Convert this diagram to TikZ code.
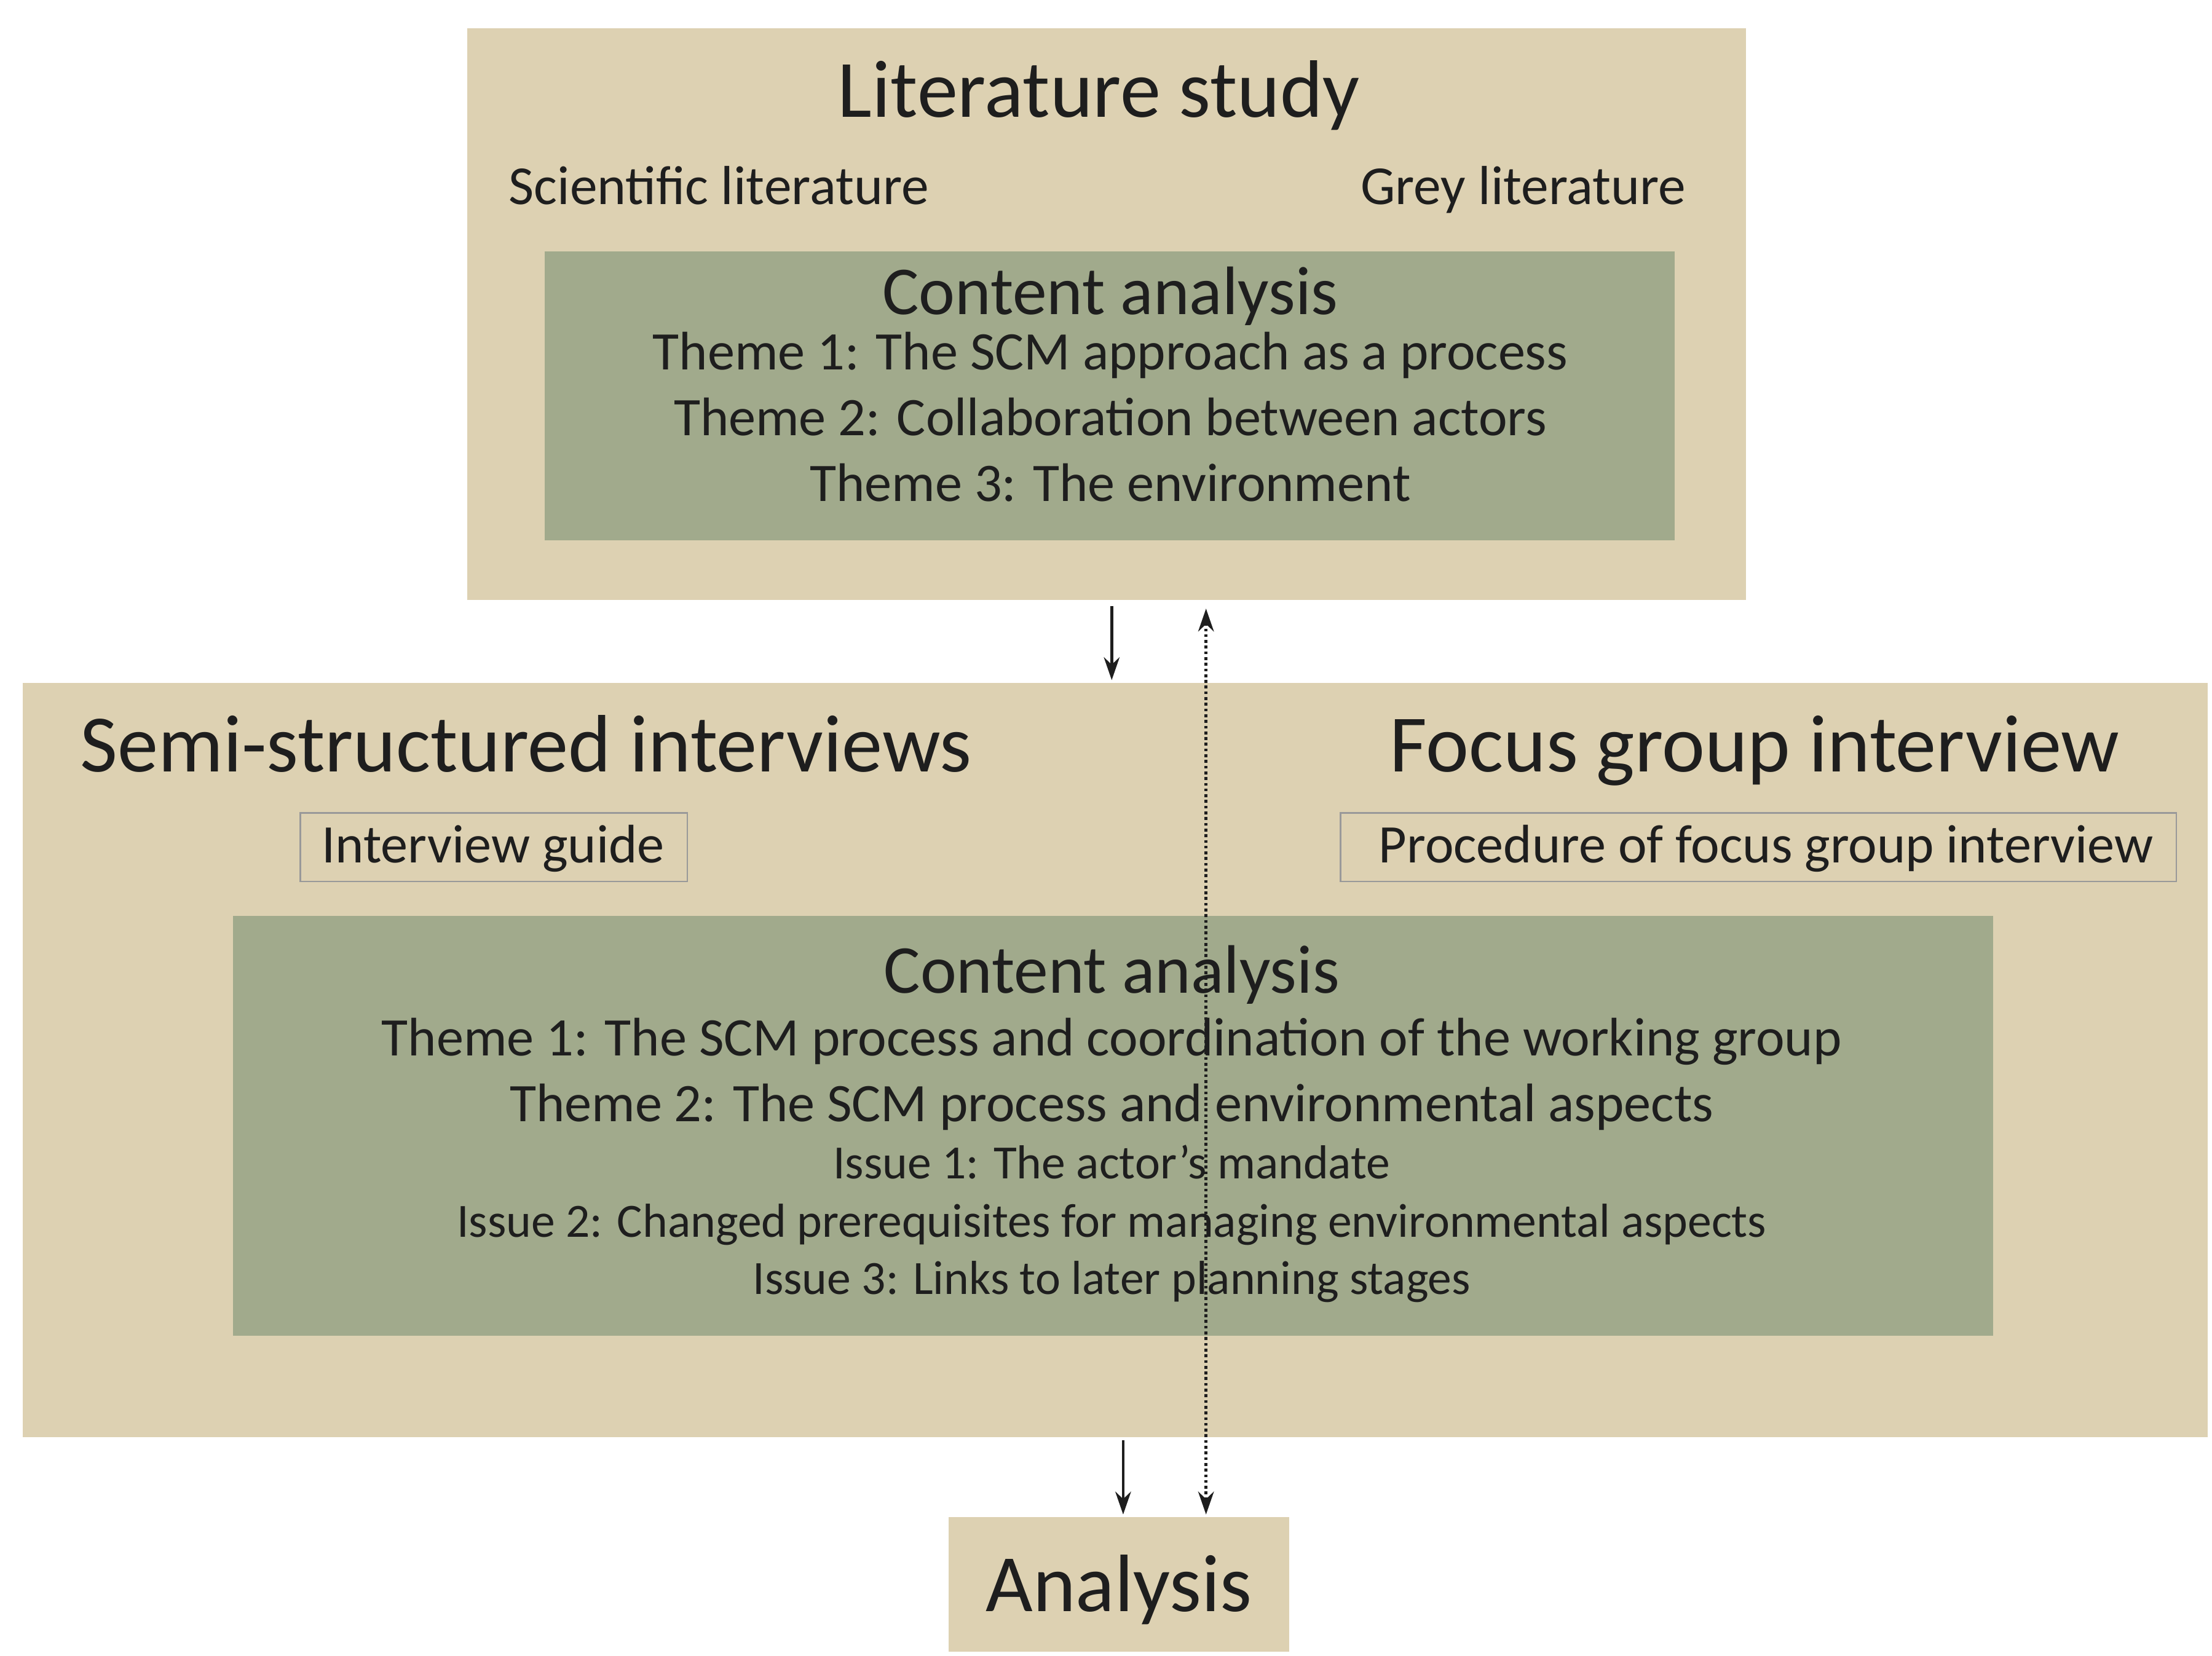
\documentclass[tikz,border=0pt]{standalone}
\usepackage{fontspec}
\setmainfont{Carlito}
\usetikzlibrary{arrows.meta}
\definecolor{tan}{RGB}{221,209,178}
\definecolor{grn}{RGB}{161,170,140}
\definecolor{txt}{RGB}{30,30,30}
\tikzset{
 box/.style={fill=tan,draw=none},
 gbox/.style={fill=grn,draw=none},
 obox/.style={draw=gray!80,line width=1.2pt,inner sep=0pt},
 t/.style={text=txt,inner sep=0pt,anchor=base},
 arr/.style={-{Stealth[length=16pt,width=11pt]},line width=2pt,txt},
}
\begin{document}
\begin{tikzpicture}[x=1pt,y=-1pt]
\useasboundingbox[fill=white] (0,0) rectangle (1548,1159);
\fill[box] (327,20) rectangle (1222,420);
\fill[gbox] (381,176) rectangle (1172,378);
\fill[box] (16,478) rectangle (1545,1006);
\fill[gbox] (163,641) rectangle (1395,935);
\node[box,minimum width=238pt,minimum height=94pt] (an) at (783,1109) {};
\node[t,font=\fontsize{57}{57}\selectfont] (ls) at (769,82) {Literature study};
\node[t,font=\fontsize{38.5}{38}\selectfont] (sl) at (503,143) {Scientific literature};
\node[t,font=\fontsize{38.5}{38}\selectfont] (gl) at (1066,143) {Grey literature};
\node[t,font=\fontsize{48}{48}\selectfont] (ca1) at (777,220) {Content analysis};
\node[t,font=\fontsize{38}{38}\selectfont] (t11) at (777,259) {Theme 1: The SCM approach as a process};
\node[t,font=\fontsize{38}{38}\selectfont] (t12) at (777,305) {Theme 2: Collaboration between actors};
\node[t,font=\fontsize{38}{38}\selectfont] (t13) at (777,351) {Theme 3: The environment};
\node[t,font=\fontsize{57}{57}\selectfont] (ss) at (368,540) {Semi-structured interviews};
\node[t,font=\fontsize{57}{57}\selectfont] (fg) at (1228,540) {Focus group interview};
\draw[obox] (210,569) rectangle (481,617);
\node[t,font=\fontsize{38}{38}\selectfont] (ig) at (345,604) {Interview guide};
\draw[obox] (938,569) rectangle (1523,617);
\node[t,font=\fontsize{38}{38}\selectfont] (pf) at (1236,604) {Procedure of focus group interview};
\node[t,font=\fontsize{48}{48}\selectfont] (ca2) at (778,695) {Content analysis};
\node[t,font=\fontsize{38}{38}\selectfont] (u1) at (778,739) {Theme 1: The SCM process and coordination of the working group};
\node[t,font=\fontsize{38}{38}\selectfont] (u2) at (778,785) {Theme 2: The SCM process and environmental aspects};
\node[t,font=\fontsize{33.4}{33}\selectfont] (i1) at (778,825) {Issue 1: The actor’s mandate};
\node[t,font=\fontsize{33.4}{33}\selectfont] (i2) at (778,866) {Issue 2: Changed prerequisites for managing environmental aspects};
\node[t,font=\fontsize{33.4}{33}\selectfont] (i3) at (778,906) {Issue 3: Links to later planning stages};
\node[t,font=\fontsize{57}{57}\selectfont] (al) at (783,1128) {Analysis};
\coordinate (a1) at (778,424); \coordinate (a2) at (778,476);
\coordinate (d1) at (844,426); \coordinate (d2) at (844,1060);
\coordinate (b1) at (786,1008); \coordinate (b2) at (786,1060);
\draw[arr] (a1) -- (a2);
\draw[arr] (b1) -- (b2);
\draw[arr,{Stealth[length=16pt,width=11pt]}-{Stealth[length=16pt,width=11pt]},dotted,line width=2pt] (d1) -- (d2);
\end{tikzpicture}
\end{document}
